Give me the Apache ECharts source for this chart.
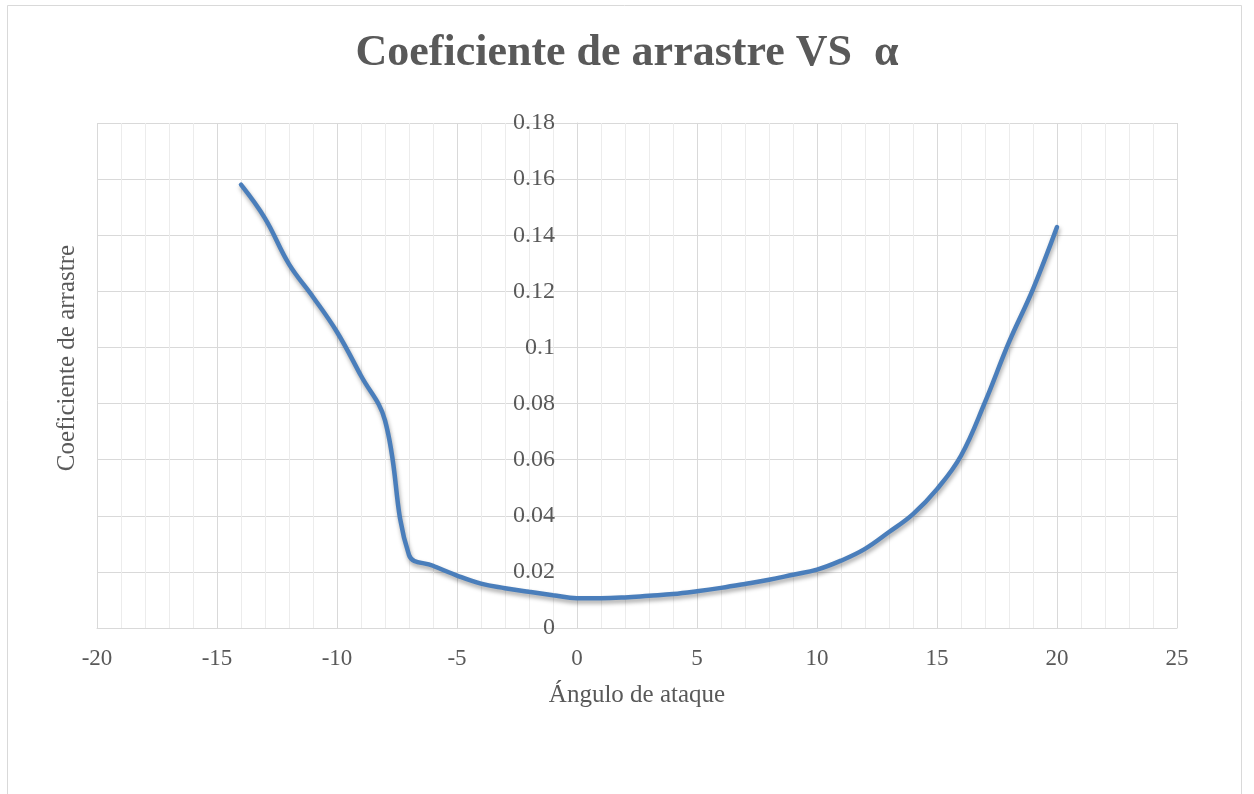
<!DOCTYPE html>
<html>
<head>
<meta charset="utf-8">
<title>Coeficiente de arrastre VS α</title>
<script src="https://cdn.jsdelivr.net/npm/echarts@6/dist/echarts.min.js"></script>
<style>
  html, body { margin: 0; padding: 0; background: #fff; }
  #chart { width: 1254px; height: 794px; }
</style>
</head>
<body>
<div id="chart"></div>
<script>
// Ángulo de ataque (grados)
const angles = [-14, -13, -12, -11, -10, -9, -8, -7, -6, -5, -4, -3, -2, -1, 0,
  1, 2, 3, 4, 5, 6, 7, 8, 9, 10, 11, 12, 13, 14, 15, 16, 17, 18, 19, 20];
// Coeficiente de arrastre Cd
const dragCoef = [0.158, 0.146, 0.1297, 0.118, 0.1055, 0.0899, 0.074, 0.026, 0.0222, 0.0187,
  0.0158, 0.0142, 0.0129, 0.0117, 0.0106, 0.0106, 0.0109, 0.0115, 0.0121, 0.0131,
  0.0143, 0.0157, 0.0172, 0.019, 0.0208, 0.024, 0.0282, 0.0342, 0.0406, 0.0495,
  0.0614, 0.0805, 0.1019, 0.1208, 0.1429];

const titleText = 'Coeficiente de arrastre VS  α';
const xTitle = 'Ángulo de ataque';
const yTitle = 'Coeficiente de arrastre';

const FONT = 'Liberation Serif';
const TEXT = '#595959';

const GRID = { left: 97, right: 77, top: 123, bottom: 166 };
const X_MIN = -20, X_MAX = 25;
// the vertical axis sits at x = 0, inside the plot
const plotW = 1254 - GRID.left - GRID.right;
const yAxisOffset = -plotW * (0 - X_MIN) / (X_MAX - X_MIN);

const chart = echarts.init(document.getElementById('chart'));
chart.setOption({
  animation: false,
  backgroundColor: '#fff',
  title: {
    text: titleText,
    left: 'center',
    top: 27,
    textStyle: { fontFamily: FONT, fontWeight: 'bold', fontSize: 44, color: TEXT }
  },
  grid: GRID,
  graphic: [
    {
      type: 'rect', silent: true, z: -10,
      shape: { x: 7.5, y: 5.5, width: 1234, height: 800 },
      style: { fill: 'none', stroke: '#d9d9d9', lineWidth: 1 }
    },
    {
      type: 'text', x: 67, y: 358, rotation: Math.PI / 2,
      style: { text: yTitle, fontFamily: FONT, fontSize: 25, fill: TEXT,
        align: 'center', verticalAlign: 'middle' }
    }
  ],
  xAxis: {
    type: 'value', min: X_MIN, max: X_MAX, interval: 5,
    name: xTitle, nameLocation: 'middle', nameGap: 55,
    nameTextStyle: { fontFamily: FONT, fontSize: 25, color: TEXT },
    axisLine: { onZero: false, lineStyle: { color: '#d9d9d9' } },
    axisTick: { show: false },
    axisLabel: { fontFamily: FONT, fontSize: 23, color: TEXT, margin: 19 },
    splitLine: { show: true, lineStyle: { color: '#d9d9d9', width: 1 } },
    minorTick: { show: false, splitNumber: 5 },
    minorSplitLine: { show: true, lineStyle: { color: '#ececec', width: 1 } }
  },
  yAxis: {
    type: 'value', min: 0, max: 0.18, interval: 0.02,
    position: 'left', offset: yAxisOffset,
    axisLine: { show: true, onZero: false, lineStyle: { color: '#d9d9d9' } },
    axisTick: { show: false },
    axisLabel: { fontFamily: FONT, fontSize: 24, color: TEXT, margin: 22 },
    splitLine: { show: true, lineStyle: { color: '#d9d9d9', width: 1 } }
  },
  series: [{
    type: 'line',
    data: angles.map((a, i) => [a, dragCoef[i]]),
    smooth: 0.4,
    showSymbol: false,
    lineStyle: {
      color: '#4a7ebb', width: 4.5, cap: 'round',
      shadowColor: 'rgba(0,0,0,0.35)', shadowBlur: 4, shadowOffsetX: 1, shadowOffsetY: 3
    }
  }]
});
</script>
</body>
</html>
